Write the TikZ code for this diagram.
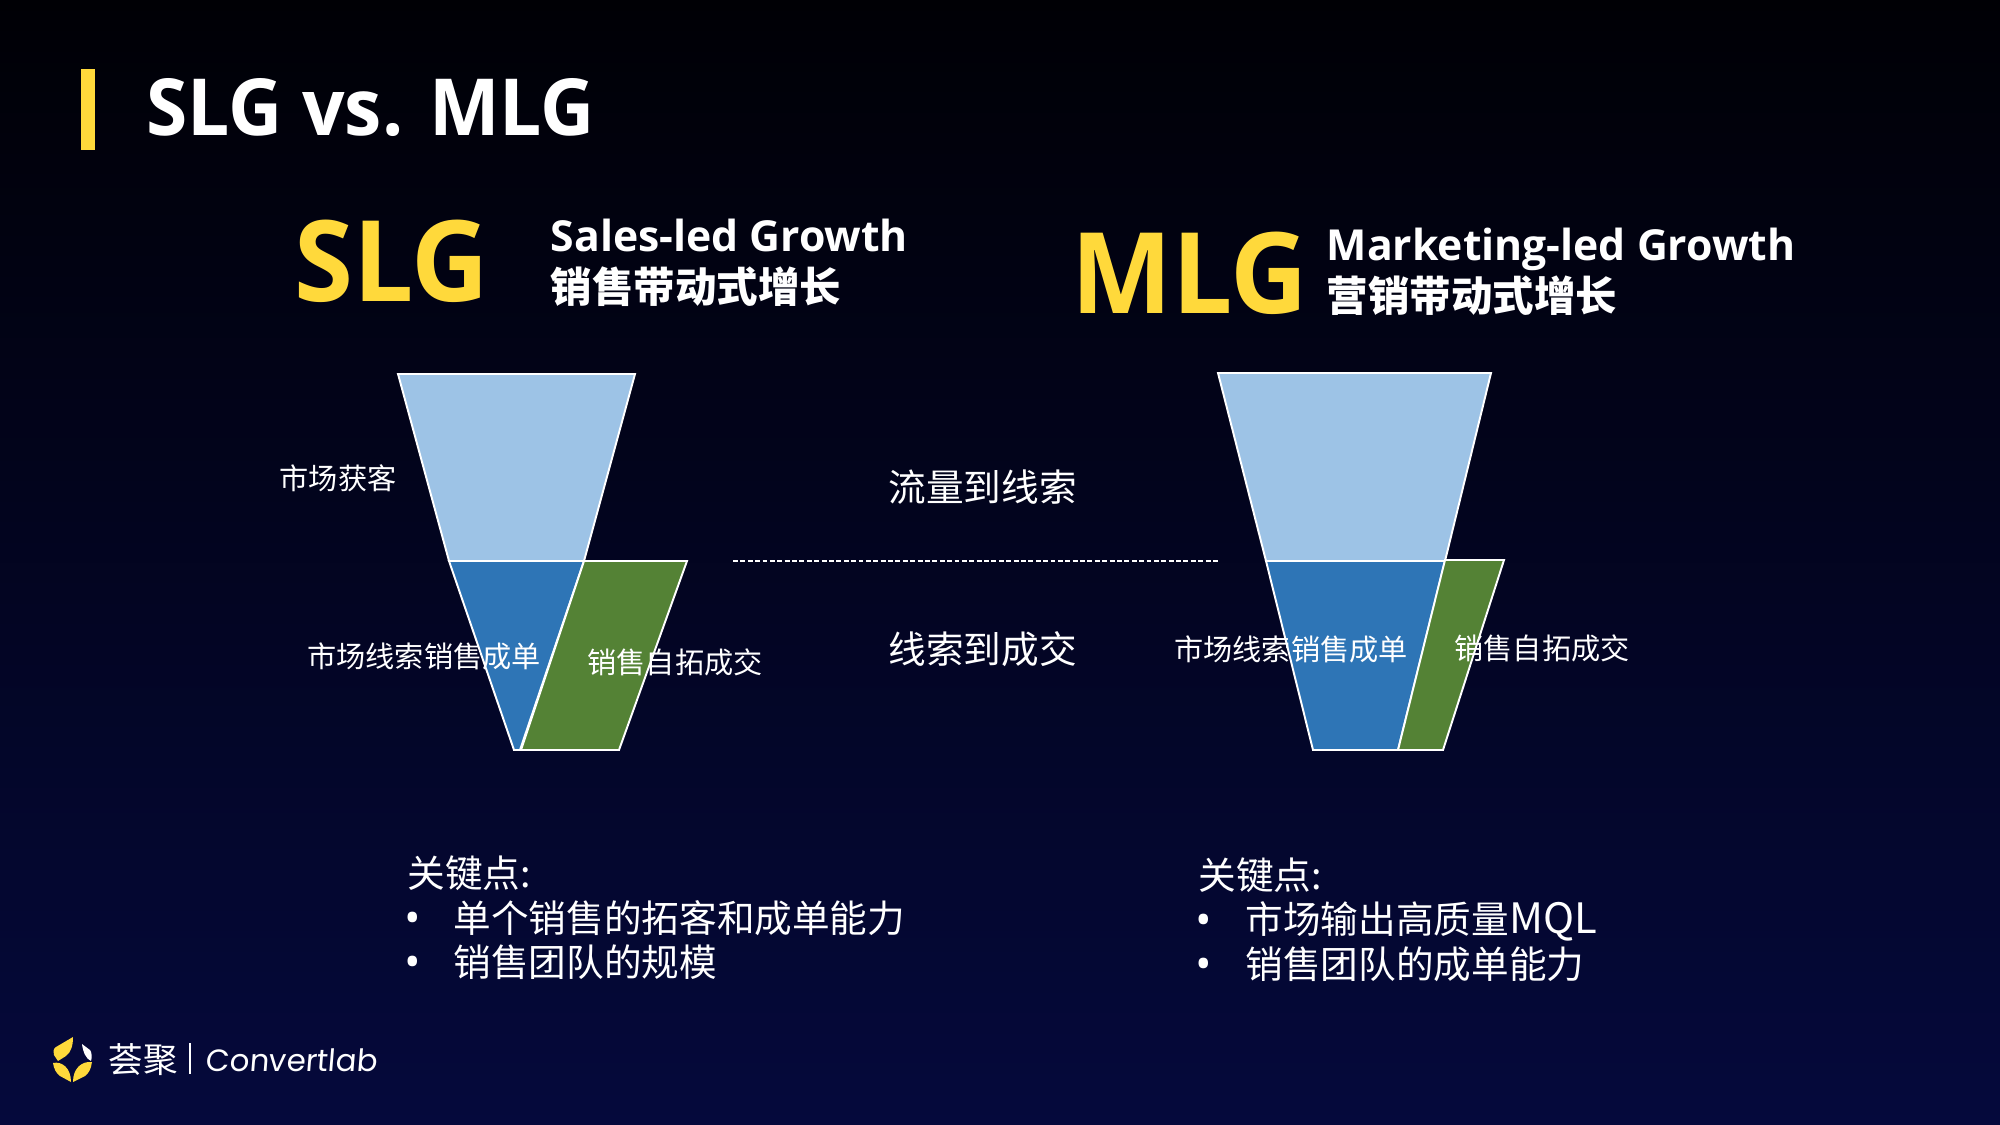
\documentclass[tikz,border=0pt]{standalone}
\usepackage{fontspec}
\setmainfont{Noto Sans CJK SC}
\newfontfamily\latinbold{Open Sans}
\newfontfamily\latinnarrow[FakeStretch=0.95]{Open Sans}
\newfontfamily\logofont[FakeSlant=0.08]{Poppins}
\definecolor{slideyellow}{HTML}{FFD93B}
\definecolor{funnellight}{HTML}{9DC3E6}
\definecolor{funnelblue}{HTML}{2E75B6}
\definecolor{funnelgreen}{HTML}{548235}
\definecolor{slidetop}{HTML}{000005}
\definecolor{slidebottom}{HTML}{05093C}
\tikzset{
    funnelpart/.style={draw=white,line width=0.55pt,line join=miter},
    smalltext/.style={text=white,font=\fontsize{8.3}{10}\selectfont,inner sep=0pt},
    midtext/.style={text=white,font=\fontsize{10.7}{13}\selectfont,inner sep=0pt,anchor=west},
    subtext/.style={text=white,font=\fontsize{11.8}{14}\selectfont\bfseries,inner sep=0pt,anchor=west},
    subtextlatin/.style={subtext,font=\latinbold\fontsize{12.15}{14}\selectfont\bfseries},
    bigname/.style={text=slideyellow,font=\latinnarrow\fontsize{32}{38}\selectfont\bfseries,inner sep=0pt,anchor=west},
    bulletmark/.style={text=white,font=\latinbold\fontsize{12.5}{14}\selectfont,inner sep=0pt}
}
\begin{document}
\begin{tikzpicture}[x=0.01cm,y=-0.01cm]
    \useasboundingbox (0,0) rectangle (2000,1125);
    \shade[top color=slidetop,bottom color=slidebottom] (0,0) rectangle (2000,1125);

    % title
    \fill[slideyellow] (81,69) rectangle (95,150);
    \node[text=white,font=\latinnarrow\fontsize{22.4}{27}\selectfont\bfseries,inner sep=0pt,anchor=west] (title) at (146,108) {SLG vs. MLG};

    % headings
    \node[bigname] (slgname) at (294,261) {SLG};
    \node[bigname] (mlgname) at (1071,273) {MLG};
    \node[subtextlatin] (slgen) at (550,235) {Sales-led Growth};
    \node[subtext] (slgcn) at (550,287) {销售带动式增长};
    \node[subtextlatin] (mlgen) at (1326,249) {Marketing-led Growth};
    \node[subtext] (mlgcn) at (1326,296) {营销带动式增长};

    % left funnel
    \draw[funnelpart,fill=funnellight] (398,374) -- (635,374) -- (584,561) -- (449,561) -- cycle;
    \draw[funnelpart,fill=funnelblue] (449,561) -- (584,561) -- (520,750) -- (514,750) -- cycle;
    \draw[funnelpart,fill=funnelgreen] (584,561) -- (687,561) -- (619,750) -- (521,750) -- cycle;

    % right funnel
    \draw[funnelpart,fill=funnellight] (1218,373) -- (1491,373) -- (1445,561) -- (1266,561) -- cycle;
    \draw[funnelpart,fill=funnelblue] (1266,561) -- (1445,561) -- (1398,750) -- (1313,750) -- cycle;
    \draw[funnelpart,fill=funnelgreen] (1445,560) -- (1504,560) -- (1443,750) -- (1398,750) -- cycle;

    % divider
    \coordinate (dashleft) at (733,561);
    \coordinate (dashright) at (1218,561);
    \draw[white,line width=0.35pt,dash pattern=on 1.4pt off 0.7pt] (dashleft) -- (dashright);

    % funnel labels
    \node[smalltext] (acquire) at (338,478) {市场获客};
    \node[smalltext] (leadsl) at (424,656) {市场线索销售成单};
    \node[smalltext] (selfl) at (675,662) {销售自拓成交};
    \node[smalltext] (leadsr) at (1291,649) {市场线索销售成单};
    \node[smalltext] (selfr) at (1542,648) {销售自拓成交};
    \node[midtext] (stepone) at (888,487) {流量到线索};
    \node[midtext] (steptwo) at (888,649) {线索到成交};

    % key points
    \node[midtext] (keyl) at (407,873) {关键点:};
    \node[bulletmark] (bulla) at (413,923) {•};
    \node[midtext] (pointa) at (453,918) {单个销售的拓客和成单能力};
    \node[bulletmark] (bullb) at (413,967) {•};
    \node[midtext] (pointb) at (453,962) {销售团队的规模};
    \node[midtext] (keyr) at (1198,875) {关键点:};
    \node[bulletmark] (bullc) at (1204,925) {•};
    \node[midtext] (pointc) at (1245,921) {市场输出高质量{\fontsize{11.9}{13}\selectfont MQL}};
    \node[bulletmark] (bulld) at (1204,969) {•};
    \node[midtext] (pointd) at (1245,964) {销售团队的成单能力};

    % logo
    \fill[slideyellow] (73,1037) -- (56,1047) .. controls (53,1049) and (53,1052) .. (54,1055) -- (58,1061) -- (66,1056) .. controls (71,1052) and (73,1046) .. (73,1037) -- cycle;
    \fill[white] (82,1044) -- (90,1050) .. controls (92,1052) and (92,1058) .. (91,1061) .. controls (86,1059) and (83,1052) .. (82,1044) -- cycle;
    \fill[slideyellow] (53,1063) .. controls (62,1061) and (71,1068) .. (71,1082) -- (60,1076) .. controls (56,1073) and (54,1069) .. (53,1063) -- cycle;
    \fill[slideyellow] (92,1062) .. controls (82,1061) and (73,1068) .. (73,1082) -- (85,1076) .. controls (89,1073) and (91,1069) .. (92,1062) -- cycle;
    \node[text=white,font=\fontsize{9.8}{12}\selectfont,inner sep=0pt,anchor=west] (logocn) at (108,1060) {荟聚};
    \draw[white,line width=0.3pt] (190,1043) -- (190,1074);
    \node[text=white,font=\logofont\fontsize{8.75}{12}\selectfont,inner sep=0pt,anchor=west] (logoen) at (205,1060) {Convertlab};
\end{tikzpicture}
\end{document}
